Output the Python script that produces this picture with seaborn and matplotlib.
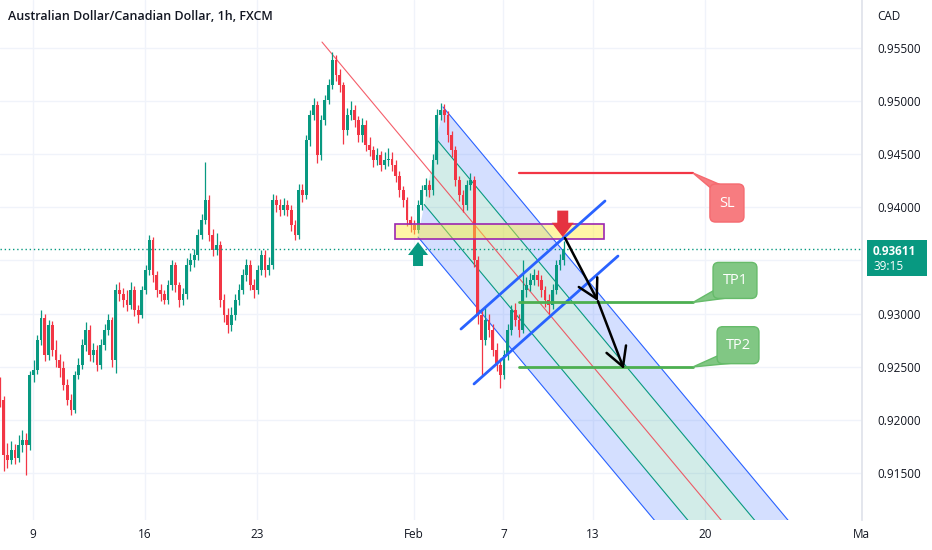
import numpy as np
import matplotlib
matplotlib.use("Agg")
import matplotlib.pyplot as plt
from matplotlib.patches import Polygon, Rectangle, FancyBboxPatch
import seaborn as sns

# 4h candles, AUD/CAD, x in trading days from Mon Jan 9
closes = [
    0.9219, 0.9167, 0.9162, 0.9172, 0.9164, 0.9176, 0.9181, 0.9176, 0.9242, 0.9247,
    0.9275, 0.9296, 0.9261, 0.9289, 0.9266, 0.9256, 0.9249, 0.9233, 0.9219, 0.9209,
    0.9242, 0.9252, 0.9270, 0.9285, 0.9261, 0.9266, 0.9252, 0.9270, 0.9285, 0.9294,
    0.9256, 0.9322, 0.9318, 0.9313, 0.9308, 0.9322, 0.9303, 0.9299, 0.9322, 0.9341,
    0.9369, 0.9336, 0.9322, 0.9318, 0.9313, 0.9327, 0.9346, 0.9327, 0.9313, 0.9318,
    0.9346, 0.9350, 0.9355, 0.9374, 0.9388, 0.9407, 0.9374, 0.9360, 0.9365, 0.9313,
    0.9299, 0.9289, 0.9299, 0.9313, 0.9322, 0.9336, 0.9346, 0.9327, 0.9322, 0.9341,
    0.9355, 0.9341, 0.9346, 0.9407, 0.9402, 0.9398, 0.9402, 0.9398, 0.9383, 0.9374,
    0.9416, 0.9412, 0.9463, 0.9487, 0.9496, 0.9449, 0.9482, 0.9501, 0.9515, 0.9539,
    0.9525, 0.9515, 0.9473, 0.9487, 0.9492, 0.9482, 0.9468, 0.9478, 0.9459, 0.9454,
    0.9445, 0.9449, 0.9440, 0.9445, 0.9446, 0.9440, 0.9430, 0.9416, 0.9407, 0.9388,
    0.9383, 0.9379, 0.9402, 0.9416, 0.9421, 0.9416, 0.9445, 0.9487, 0.9492, 0.9487,
    0.9468, 0.9454, 0.9426, 0.9412, 0.9402, 0.9421, 0.9426, 0.9350, 0.9299, 0.9275,
    0.9294, 0.9285, 0.9266, 0.9252, 0.9242, 0.9261, 0.9285, 0.9303, 0.9294, 0.9285,
    0.9322, 0.9327, 0.9332, 0.9336, 0.9332, 0.9322, 0.9313, 0.9308, 0.9322, 0.9346,
    0.9350, 0.93611,
]
highs = [
    0.9240, 0.9222, 0.9178, 0.9180, 0.9177, 0.9186, 0.9190, 0.9188, 0.9246, 0.9256,
    0.9280, 0.9303, 0.9300, 0.9294, 0.9293, 0.9275, 0.9262, 0.9255, 0.9238, 0.9224,
    0.9246, 0.9258, 0.9276, 0.9292, 0.9289, 0.9272, 0.9270, 0.9276, 0.9290, 0.9300,
    0.9297, 0.9328, 0.9330, 0.9324, 0.9322, 0.9330, 0.9326, 0.9308, 0.9326, 0.9346,
    0.9374, 0.9372, 0.9340, 0.9328, 0.9322, 0.9332, 0.9350, 0.9349, 0.9330, 0.9324,
    0.9352, 0.9357, 0.9361, 0.9380, 0.9394, 0.9443, 0.9412, 0.9380, 0.9376, 0.9368,
    0.9318, 0.9305, 0.9306, 0.9318, 0.9328, 0.9342, 0.9351, 0.9350, 0.9333, 0.9346,
    0.9360, 0.9360, 0.9353, 0.9413, 0.9412, 0.9408, 0.9409, 0.9407, 0.9402, 0.9388,
    0.9422, 0.9422, 0.9468, 0.9492, 0.9503, 0.9500, 0.9487, 0.9506, 0.9521, 0.9546,
    0.9543, 0.9530, 0.9518, 0.9494, 0.9500, 0.9496, 0.9486, 0.9484, 0.9482, 0.9466,
    0.9458, 0.9456, 0.9453, 0.9452, 0.9456, 0.9452, 0.9445, 0.9434, 0.9420, 0.9410,
    0.9392, 0.9388, 0.9407, 0.9421, 0.9428, 0.9426, 0.9450, 0.9493, 0.9498, 0.9497,
    0.9491, 0.9472, 0.9458, 0.9430, 0.9416, 0.9426, 0.9432, 0.9430, 0.9354, 0.9304,
    0.9306, 0.9300, 0.9290, 0.9272, 0.9258, 0.9266, 0.9290, 0.9308, 0.9310, 0.9300,
    0.9350, 0.9334, 0.9338, 0.9342, 0.9341, 0.9336, 0.9326, 0.9318, 0.9328, 0.9350,
    0.9356, 0.9368,
]
lows = [
    0.9212, 0.9152, 0.9155, 0.9158, 0.9158, 0.9160, 0.9170, 0.9148, 0.9172, 0.9236,
    0.9243, 0.9270, 0.9255, 0.9256, 0.9260, 0.9250, 0.9240, 0.9228, 0.9214, 0.9205,
    0.9206, 0.9238, 0.9248, 0.9265, 0.9255, 0.9254, 0.9246, 0.9248, 0.9266, 0.9280,
    0.9250, 0.9244, 0.9312, 0.9306, 0.9302, 0.9304, 0.9298, 0.9291, 0.9296, 0.9318,
    0.9336, 0.9330, 0.9316, 0.9312, 0.9309, 0.9309, 0.9322, 0.9320, 0.9306, 0.9308,
    0.9314, 0.9340, 0.9344, 0.9350, 0.9370, 0.9384, 0.9368, 0.9354, 0.9355, 0.9306,
    0.9292, 0.9282, 0.9284, 0.9294, 0.9308, 0.9318, 0.9331, 0.9322, 0.9315, 0.9318,
    0.9336, 0.9334, 0.9336, 0.9342, 0.9396, 0.9392, 0.9393, 0.9392, 0.9378, 0.9369,
    0.9370, 0.9405, 0.9408, 0.9458, 0.9482, 0.9442, 0.9445, 0.9478, 0.9497, 0.9511,
    0.9519, 0.9509, 0.9460, 0.9468, 0.9482, 0.9476, 0.9462, 0.9462, 0.9453, 0.9448,
    0.9438, 0.9440, 0.9434, 0.9436, 0.9439, 0.9434, 0.9424, 0.9410, 0.9400, 0.9382,
    0.9377, 0.9375, 0.9376, 0.9398, 0.9411, 0.9410, 0.9412, 0.9441, 0.9482, 0.9480,
    0.9462, 0.9447, 0.9420, 0.9406, 0.9396, 0.9398, 0.9416, 0.9344, 0.9290, 0.9242,
    0.9270, 0.9278, 0.9260, 0.9246, 0.9230, 0.9238, 0.9256, 0.9280, 0.9288, 0.9278,
    0.9282, 0.9316, 0.9321, 0.9327, 0.9326, 0.9316, 0.9306, 0.9300, 0.9304, 0.9318,
    0.9341, 0.9346,
]
first_open = 0.9235
bar_days = 1 / 6          # one 4h bar in trading days
start_day = -1.473

date_ticks = [0, 5, 10, 17, 21, 25, 30, 37]
date_labels = ["9", "16", "23", "Feb", "7", "13", "20", "Ma"]
price_ticks = [0.915, 0.920, 0.925, 0.930, 0.935, 0.940, 0.945, 0.950, 0.955]
last_price = 0.93611

# drawing anchors (trading day, price)
fork_a = (12.902, 0.95556)
fork_b = (18.304, 0.94945)
fork_c = (17.188, 0.93721)
zone = (16.16, 25.49, 0.93702, 0.93844)
channel_up = [(19.107, 0.92855), (25.536, 0.94060)]
channel_lo = [(19.688, 0.92338), (26.116, 0.93542)]
path_down = [(23.75, 0.93712), (25.22, 0.93118), (26.38, 0.92478)]
sl_level, tp1_level, tp2_level = 0.94324, 0.93105, 0.92498
level_span = (21.70, 29.46)
buy_arrow = (17.19, 0.93674)
sell_arrow = (23.65, 0.93721)

UP, DOWN = "#089981", "#f23645"
BLUE, TEAL = "#2962ff", "#089981"
TXT = "#131722"
GRID = "#f0f3fa"

sns.set_theme(style="white")
plt.rcParams["font.family"] = ["Open Sans", "DejaVu Sans"]

fig = plt.figure(figsize=(9.32, 5.5), dpi=100)
ax = fig.add_axes([0, 30 / 550, 862 / 932, 520 / 550])
ax.set_xlim(-1.473, 37.01)
ax.set_ylim(0.910576, 0.959518)

# px -> data sizes for drawings
px_x = 1 / 22.4
px_y = 1 / 10625

# grid
for t in date_ticks:
    ax.axvline(t, color=GRID, lw=1, zorder=0)
for p in price_ticks:
    ax.axhline(p, color=GRID, lw=1, zorder=0)

# pitchfork
A, B, C = np.array(fork_a), np.array(fork_b), np.array(fork_c)
M = (B + C) / 2
v = M - A
far = 6
def fork_base(k):
    return M + k * (B - M)

for k1, k2, col in [(0.5, 1, BLUE), (-1, -0.5, BLUE), (-0.5, 0.5, TEAL)]:
    p1, p2 = fork_base(k1), fork_base(k2)
    poly = [p1, p2, p2 + far * v, p1 + far * v]
    ax.add_patch(Polygon(poly, closed=True, fc=col, alpha=0.2 if col == BLUE else 0.18,
                         lw=0, zorder=1))
for k, col in [(1, BLUE), (-1, BLUE), (0.5, TEAL), (-0.5, TEAL)]:
    p = fork_base(k)
    ax.plot([p[0], p[0] + far * v[0]], [p[1], p[1] + far * v[1]], color=col, lw=0.8, zorder=1.5)
ax.plot([A[0], A[0] + far * v[0]], [A[1], A[1] + far * v[1]], color=DOWN, lw=0.8, alpha=0.8, zorder=1.5)

# candles
opens = [first_open] + closes[:-1]
o, c = np.array(opens), np.array(closes)
h, l = np.array(highs), np.array(lows)
x = start_day + np.arange(len(c)) * bar_days
cols = np.where(c >= o, UP, DOWN)
ax.vlines(x, l, h, colors=cols, lw=0.9, zorder=2)
body = np.where(np.abs(c - o) < 0.00005, 0.00005, c - o)
ax.bar(x, body, bottom=o, width=bar_days * 0.75, color=cols, lw=0, zorder=2)

# current price line
ax.axhline(last_price, color=TEAL, lw=1, ls=(0, (1, 2)), zorder=2.5)

# supply / demand zone
ax.add_patch(Rectangle((zone[0], zone[2]), zone[1] - zone[0], zone[3] - zone[2],
                       fc=(1.0, 0.92, 0.23, 0.45), ec="#9c27b0", lw=1.2, zorder=3))

# block arrows
def block_arrow(tip, direction, color, scale=1.0):
    tx, ty = tip
    s = direction
    hw, sw = 10 * scale * px_x, 5 * scale * px_x
    hh, sh = 13 * scale * px_y, 11 * scale * px_y
    pts = [(tx, ty), (tx - hw, ty - s * hh), (tx - sw, ty - s * hh),
           (tx - sw, ty - s * (hh + sh)), (tx + sw, ty - s * (hh + sh)),
           (tx + sw, ty - s * hh), (tx + hw, ty - s * hh)]
    ax.add_patch(Polygon(pts, closed=True, fc=color, ec="none", zorder=4))

block_arrow(buy_arrow, 1, UP)
block_arrow(sell_arrow, -1, "#e53340", scale=1.1)

# rising channel
for seg in (channel_up, channel_lo):
    sns.lineplot(x=[seg[0][0], seg[1][0]], y=[seg[0][1], seg[1][1]], ax=ax,
                 color=BLUE, lw=2, zorder=3.5, sort=False)

# SL / TP levels
ax.plot(level_span, [sl_level] * 2, color="#f23645", lw=1.6, zorder=3.5)
ax.plot(level_span, [tp1_level] * 2, color="#4caf50", lw=2, zorder=3.5)
ax.plot(level_span, [tp2_level] * 2, color="#4caf50", lw=2, zorder=3.5)

# projected path
for p0, p1 in zip(path_down[:-1], path_down[1:]):
    ax.annotate("", xy=p1, xytext=p0,
                arrowprops=dict(arrowstyle="->,head_length=0.9,head_width=0.5",
                                color="black", lw=1.8, mutation_scale=15, shrinkA=0, shrinkB=0),
                zorder=4)

# callouts
def callout(text, x0, x1, y_top, y_bot, tail_pts, fc, ec):
    ax.add_patch(Polygon(tail_pts, closed=True, fc=fc, ec=ec, lw=1, zorder=4))
    box = FancyBboxPatch((x0, y_bot), x1 - x0, y_top - y_bot,
                         boxstyle="round,pad=0,rounding_size=0.25",
                         mutation_aspect=px_y / px_x, fc=fc, ec=ec, lw=1, zorder=4.1)
    ax.add_patch(box)
    ax.text((x0 + x1) / 2, (y_top + y_bot) / 2, text, color="white", fontsize=10.5,
            ha="center", va="center", zorder=5)

sl_box = (30.22, 31.74, 0.94220, 0.93862)
callout("SL", *sl_box,
        [(level_span[1], sl_level), (30.22 + 0.05, 0.94180), (30.22 + 0.45, 0.94220 - 0.00005)],
        "#f77c80", "#f56a70")
tp1_box = (30.36, 32.32, 0.93482, 0.93143)
callout("TP1", *tp1_box,
        [(level_span[1], tp1_level), (30.36 + 0.6, 0.93143 + 0.00003), (30.36 + 0.05, 0.93220)],
        "#81c784", "#66bb6a")
tp2_box = (30.54, 32.41, 0.92877, 0.92529)
callout("TP2", *tp2_box,
        [(level_span[1], tp2_level), (30.54 + 0.6, 0.92529 + 0.00003), (30.54 + 0.05, 0.92605)],
        "#81c784", "#66bb6a")

# axes styling
for s in ("top", "left", "bottom"):
    ax.spines[s].set_visible(False)
ax.spines["right"].set_color("#e0e3eb")
ax.yaxis.tick_right()
ax.set_yticks(price_ticks)
ax.set_yticklabels(["" if abs(p - 0.935) < 1e-9 else f"{p:.5f}" for p in price_ticks])
ax.tick_params(axis="y", length=0, pad=11, labelsize=8.5, labelcolor=TXT)
ax.set_xticks(date_ticks)
ax.set_xticklabels(date_labels)
ax.tick_params(axis="x", length=0, pad=6, labelsize=8.5, labelcolor=TXT)
ax.grid(False)

fig.text(8 / 932, 1 - 17 / 550, "Australian Dollar/Canadian Dollar, 1h, FXCM",
         fontsize=9, fontweight="semibold", color=TXT, va="center", ha="left")
fig.text(877 / 932, 1 - 16 / 550, "CAD", fontsize=8.5, color=TXT, va="center", ha="left")

# last price tag on the scale
fy = fig.transFigure.inverted().transform(ax.transData.transform((0, last_price)))[1]
tag_h = 36 / 550
fig.patches.append(Rectangle((867 / 932, fy - 27 / 550), 60 / 932, tag_h,
                             transform=fig.transFigure, fc=TEAL, ec="none", zorder=5))
fig.text(873 / 932, fy - 3 / 550, f"{last_price:.5f}", fontsize=8.5, fontweight="bold",
         color="white", va="center", ha="left", zorder=6)
fig.text(873 / 932, fy - 18 / 550, "39:15", fontsize=8.5, color="white",
         va="center", ha="left", zorder=6)

fig.savefig("out.png", dpi=100, facecolor="white")
